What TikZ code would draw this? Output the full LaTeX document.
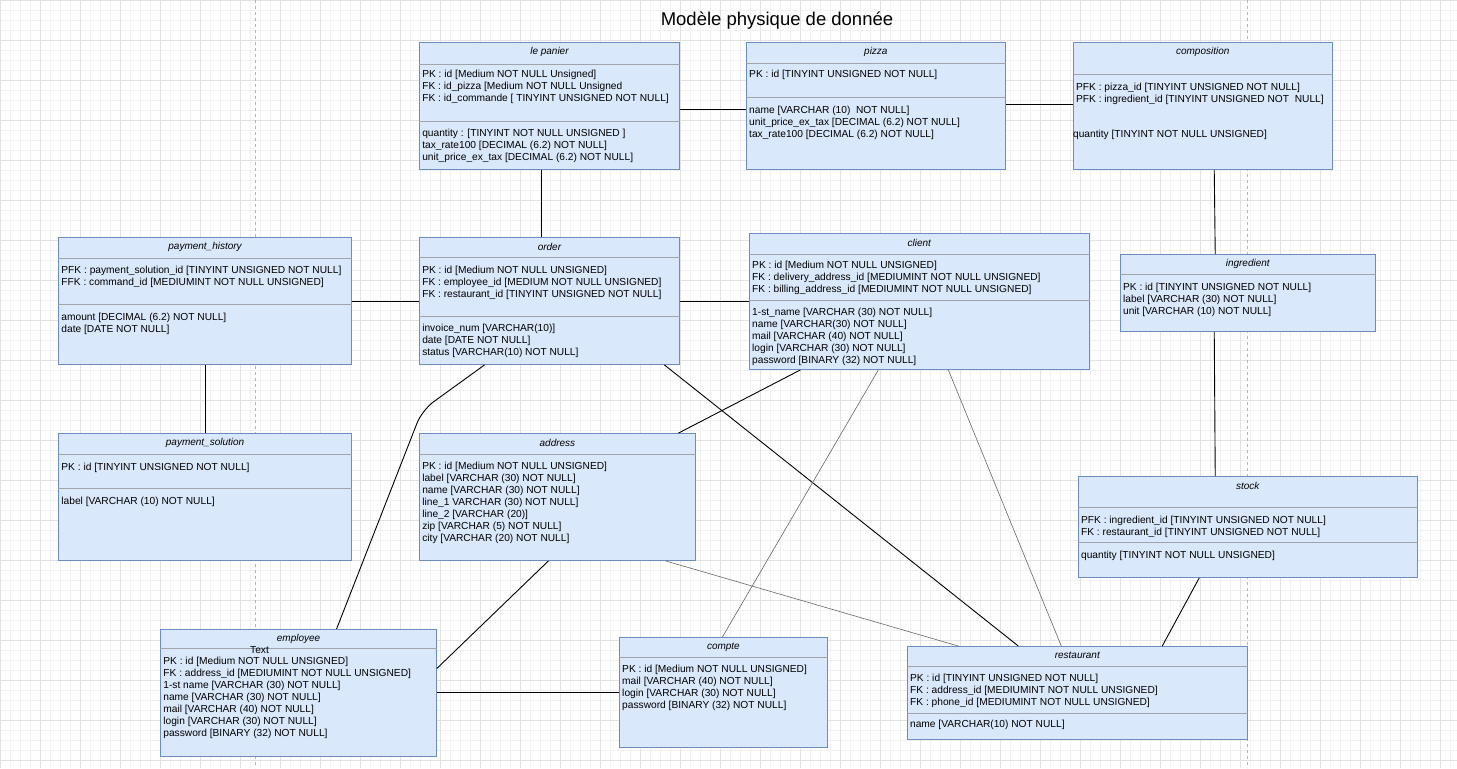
\documentclass[tikz,border=0pt]{standalone}
\usepackage{fontspec}
\setmainfont{Liberation Sans}

\definecolor{tabfill}{HTML}{DAE8FC}
\definecolor{tabline}{HTML}{6C8EBF}
\definecolor{sepline}{HTML}{A0A4AA}
\definecolor{gridminor}{HTML}{F1F1F1}
\definecolor{gridmajor}{HTML}{E2E2E2}
\definecolor{pagebreak}{HTML}{B4B4B4}

\begin{document}
\begin{tikzpicture}[
    x=1pt, y=-1pt,
    table/.style={draw=tabline, fill=tabfill, line width=0.8pt, anchor=north west, inner sep=0pt},
    head/.style={font=\fontsize{10}{12}\selectfont\itshape, inner sep=0pt},
    fields/.style={font=\fontsize{10.2}{12}\selectfont, align=left, anchor=north west, inner sep=0pt},
    sep/.style={draw=sepline, line width=0.7pt},
    link/.style={draw=black, line width=0.9pt},
    weak/.style={draw=black!60, line width=0.6pt}
]
% page background
\fill[white] (0,0) rectangle (1457,768);
\draw[gridminor, step=10pt, line width=0.5pt] (0,0) grid (1457,768);
\draw[gridmajor, step=40pt, line width=0.5pt] (0,0) grid (1457,768);
\draw[pagebreak, dashed] (255,0) -- (255,768);
\draw[pagebreak, dashed] (1247,0) -- (1247,768);
\useasboundingbox (0,0) rectangle (1457,768);

\node[font=\fontsize{18.5}{22}\selectfont] (title) at (777,20) {Modèle physique de donnée};

% le panier
\node[table, minimum width=260pt, minimum height=127pt] (panier) at (419,42) {};
\node[head] (panier-t) at ([yshift=-10pt]panier.north) {le panier};
\draw[sep] ([yshift=-22pt]panier.north west) -- ([yshift=-22pt]panier.north east);
\draw[sep] ([yshift=-79pt]panier.north west) -- ([yshift=-79pt]panier.north east);
\node[fields] (panier-k) at ([xshift=3pt,yshift=-27.4pt]panier.north west) {PK : id [Medium NOT NULL Unsigned]\\FK : id\_pizza [Medium NOT NULL Unsigned\\FK : id\_commande [ TINYINT UNSIGNED NOT NULL]};
\node[fields] (panier-a) at ([xshift=3pt,yshift=-86.4pt]panier.north west) {quantity : [TINYINT NOT NULL UNSIGNED ]\\tax\_rate100 [DECIMAL (6.2) NOT NULL]\\unit\_price\_ex\_tax [DECIMAL (6.2) NOT NULL]};

% pizza
\node[table, minimum width=259pt, minimum height=127pt] (pizza) at (746,42) {};
\node[head] (pizza-t) at ([yshift=-10pt]pizza.north) {pizza};
\draw[sep] ([yshift=-21pt]pizza.north west) -- ([yshift=-21pt]pizza.north east);
\draw[sep] ([yshift=-55pt]pizza.north west) -- ([yshift=-55pt]pizza.north east);
\node[fields] (pizza-k) at ([xshift=3pt,yshift=-27.4pt]pizza.north west) {PK : id [TINYINT UNSIGNED NOT NULL]};
\node[fields] (pizza-a) at ([xshift=3pt,yshift=-63.4pt]pizza.north west) {name [VARCHAR (10)~ NOT NULL]\\unit\_price\_ex\_tax [DECIMAL (6.2) NOT NULL]\\tax\_rate100 [DECIMAL (6.2) NOT NULL]};

% composition
\node[table, minimum width=259pt, minimum height=127pt] (composition) at (1073,42) {};
\node[head] (composition-t) at ([yshift=-10pt]composition.north) {composition};
\draw[sep] ([yshift=-32pt]composition.north west) -- ([yshift=-32pt]composition.north east);
\node[fields] (composition-k) at ([xshift=3pt,yshift=-40.4pt]composition.north west) {PFK : pizza\_id [TINYINT UNSIGNED NOT NULL]\\PFK : ingredient\_id [TINYINT UNSIGNED NOT~ NULL]};
\node[fields] (composition-a) at ([xshift=0pt,yshift=-87.4pt]composition.north west) {quantity [TINYINT NOT NULL UNSIGNED]};

% payment_history
\node[table, minimum width=293pt, minimum height=127pt] (payhist) at (58,237) {};
\node[head] (payhist-t) at ([yshift=-10pt]payhist.north) {payment\_history};
\draw[sep] ([yshift=-21pt]payhist.north west) -- ([yshift=-21pt]payhist.north east);
\draw[sep] ([yshift=-67pt]payhist.north west) -- ([yshift=-67pt]payhist.north east);
\node[fields] (payhist-k) at ([xshift=3pt,yshift=-28.4pt]payhist.north west) {PFK : payment\_solution\_id [TINYINT UNSIGNED NOT NULL]\\FFK : command\_id [MEDIUMINT NOT NULL UNSIGNED]};
\node[fields] (payhist-a) at ([xshift=3pt,yshift=-75.4pt]payhist.north west) {amount [DECIMAL (6.2) NOT NULL]\\date [DATE NOT NULL]};

% order
\node[table, minimum width=260pt, minimum height=127pt] (order) at (419,237) {};
\node[head] (order-t) at ([yshift=-10pt]order.north) {order};
\draw[sep] ([yshift=-20.3pt]order.north west) -- ([yshift=-20.3pt]order.north east);
\draw[sep] ([yshift=-79pt]order.north west) -- ([yshift=-79pt]order.north east);
\node[fields] (order-k) at ([xshift=3pt,yshift=-28.4pt]order.north west) {PK : id [Medium NOT NULL UNSIGNED]\\FK : employee\_id [MEDIUM NOT NULL UNSIGNED]\\FK : restaurant\_id [TINYINT UNSIGNED NOT NULL]};
\node[fields] (order-a) at ([xshift=3pt,yshift=-86.4pt]order.north west) {invoice\_num [VARCHAR(10)]\\date [DATE NOT NULL]\\status [VARCHAR(10) NOT NULL]};

% client
\node[table, minimum width=340pt, minimum height=136pt] (client) at (749,233) {};
\node[head] (client-t) at ([yshift=-10pt]client.north) {client};
\draw[sep] ([yshift=-21pt]client.north west) -- ([yshift=-21pt]client.north east);
\draw[sep] ([yshift=-67pt]client.north west) -- ([yshift=-67pt]client.north east);
\node[fields] (client-k) at ([xshift=3pt,yshift=-27.4pt]client.north west) {PK : id [Medium NOT NULL UNSIGNED]\\FK : delivery\_address\_id [MEDIUMINT NOT NULL UNSIGNED]\\FK : billing\_address\_id [MEDIUMINT NOT NULL UNSIGNED]};
\node[fields] (client-a) at ([xshift=3pt,yshift=-74.4pt]client.north west) {1-st\_name [VARCHAR (30) NOT NULL]\\name [VARCHAR(30) NOT NULL]\\mail [VARCHAR (40) NOT NULL]\\login [VARCHAR (30) NOT NULL]\\password [BINARY (32) NOT NULL]};

% ingredient
\node[table, minimum width=255pt, minimum height=77pt] (ingredient) at (1120,254) {};
\node[head] (ingredient-t) at ([yshift=-10pt]ingredient.north) {ingredient};
\draw[sep] ([yshift=-20pt]ingredient.north west) -- ([yshift=-20pt]ingredient.north east);
\node[fields] (ingredient-k) at ([xshift=3pt,yshift=-28.4pt]ingredient.north west) {PK : id [TINYINT UNSIGNED NOT NULL]\\label [VARCHAR (30) NOT NULL]\\unit [VARCHAR (10) NOT NULL]};

% payment_solution
\node[table, minimum width=293pt, minimum height=127pt] (paysol) at (58,433) {};
\node[head] (paysol-t) at ([yshift=-10pt]paysol.north) {payment\_solution};
\draw[sep] ([yshift=-21pt]paysol.north west) -- ([yshift=-21pt]paysol.north east);
\draw[sep] ([yshift=-55pt]paysol.north west) -- ([yshift=-55pt]paysol.north east);
\node[fields] (paysol-k) at ([xshift=3pt,yshift=-29.4pt]paysol.north west) {PK : id [TINYINT UNSIGNED NOT NULL]};
\node[fields] (paysol-a) at ([xshift=3pt,yshift=-63.4pt]paysol.north west) {label [VARCHAR (10) NOT NULL]};

% address
\node[table, minimum width=276pt, minimum height=127pt] (address) at (419,433) {};
\node[head] (address-t) at ([yshift=-10pt]address.north) {address};
\draw[sep] ([yshift=-21pt]address.north west) -- ([yshift=-21pt]address.north east);
\node[fields] (address-k) at ([xshift=3pt,yshift=-28.4pt]address.north west) {PK : id [Medium NOT NULL UNSIGNED]\\label [VARCHAR (30) NOT NULL]\\name [VARCHAR (30) NOT NULL]\\line\_1 VARCHAR (30) NOT NULL]\\line\_2 [VARCHAR (20)]\\zip [VARCHAR (5) NOT NULL]\\city [VARCHAR (20) NOT NULL]};

% stock
\node[table, minimum width=339pt, minimum height=101pt] (stock) at (1078,476) {};
\node[head] (stock-t) at ([yshift=-9.5pt]stock.north) {stock};
\draw[sep] ([yshift=-31pt]stock.north west) -- ([yshift=-31pt]stock.north east);
\draw[sep] ([yshift=-66pt]stock.north west) -- ([yshift=-66pt]stock.north east);
\node[fields] (stock-k) at ([xshift=3pt,yshift=-39.4pt]stock.north west) {PFK : ingredient\_id [TINYINT UNSIGNED NOT NULL]\\FK : restaurant\_id [TINYINT UNSIGNED NOT NULL]};
\node[fields] (stock-a) at ([xshift=3pt,yshift=-74.4pt]stock.north west) {quantity [TINYINT NOT NULL UNSIGNED]};

% employee
\node[table, minimum width=276pt, minimum height=127pt] (employee) at (160,629) {};
\node[head] (employee-t) at ([yshift=-9.5pt]employee.north) {employee};
\draw[sep] ([yshift=-19pt]employee.north west) -- ([yshift=-19pt]employee.north east);
\node[fields, anchor=center] (employee-x) at ([xshift=-39pt,yshift=-21pt]employee.north) {Text};
\node[fields] (employee-k) at ([xshift=3pt,yshift=-27.4pt]employee.north west) {PK : id [Medium NOT NULL UNSIGNED]\\FK : address\_id [MEDIUMINT NOT NULL UNSIGNED]\\1-st name [VARCHAR (30) NOT NULL]\\name [VARCHAR (30) NOT NULL]\\mail [VARCHAR (40) NOT NULL]\\login [VARCHAR (30) NOT NULL]\\password [BINARY (32) NOT NULL]};

% compte
\node[table, minimum width=208pt, minimum height=110pt] (compte) at (619,637) {};
\node[head] (compte-t) at ([yshift=-10pt]compte.north) {compte};
\draw[sep] ([yshift=-20pt]compte.north west) -- ([yshift=-20pt]compte.north east);
\node[fields] (compte-k) at ([xshift=3pt,yshift=-27.4pt]compte.north west) {PK : id [Medium NOT NULL UNSIGNED]\\mail [VARCHAR (40) NOT NULL]\\login [VARCHAR (30) NOT NULL]\\password [BINARY (32) NOT NULL]};

% restaurant
\node[table, minimum width=340pt, minimum height=93pt] (restaurant) at (907,646) {};
\node[head] (restaurant-t) at ([yshift=-9.5pt]restaurant.north) {restaurant};
\draw[sep] ([yshift=-20pt]restaurant.north west) -- ([yshift=-20pt]restaurant.north east);
\draw[sep] ([yshift=-67pt]restaurant.north west) -- ([yshift=-67pt]restaurant.north east);
\node[fields] (restaurant-k) at ([xshift=3pt,yshift=-27.4pt]restaurant.north west) {PK : id [TINYINT UNSIGNED NOT NULL]\\FK : address\_id [MEDIUMINT NOT NULL UNSIGNED]\\FK : phone\_id [MEDIUMINT NOT NULL UNSIGNED]};
\node[fields] (restaurant-a) at ([xshift=3pt,yshift=-73.4pt]restaurant.north west) {name [VARCHAR(10) NOT NULL]};

% relations
\draw[link] ([yshift=-3.5pt]panier.east) -- ([yshift=-3.5pt]pizza.west);
\draw[link] ([yshift=1.5pt]pizza.east) -- ([yshift=1.5pt]composition.west);
\draw[link] ([xshift=-8pt]panier.south) -- ([xshift=-8pt]order.north);
\draw[link] ([xshift=11.5pt]composition.south) -- ([xshift=-32.5pt]ingredient.north);
\draw[link] ([xshift=-33.5pt]ingredient.south) -- ([xshift=-32.5pt]stock.north);
\draw[link] ([xshift=-48.5pt]stock.south) -- ([xshift=85pt]restaurant.north);
\draw[link] (payhist.east) -- (order.west);
\draw[link] (order.east) -- (order.east -| client.west);
\draw[link] (payhist.south) -- (paysol.north);
\coordinate (ordbend) at (422,410);
\draw[link, rounded corners=14pt] ([xshift=-65pt]order.south) -- (ordbend) -- ([xshift=38pt]employee.north);
\draw[link] ([xshift=115pt]order.south) -- ([xshift=-59pt]restaurant.north);
\draw[link] ([xshift=-119pt]client.south) -- ([xshift=121pt]address.north);
\draw[weak] ([xshift=-41pt]client.south) -- ([xshift=-1pt]compte.north);
\draw[weak] ([xshift=29pt]client.south) -- ([xshift=-16pt]restaurant.north);
\draw[link] ([xshift=-9pt]address.south) -- ([yshift=24.5pt]employee.east);
\draw[weak] ([xshift=108pt]address.south) -- ([xshift=-119pt]restaurant.north);
\draw[link] (employee.east) -- (employee.east -| compte.west);
\end{tikzpicture}
\end{document}
